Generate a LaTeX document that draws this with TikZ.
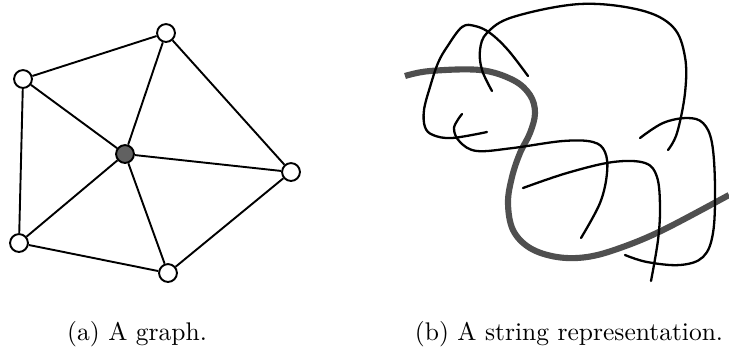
\documentclass[tikz,border=0pt]{standalone}
\usepackage{tikz}

\begin{document}
\begin{tikzpicture}[x=0.392pt, y=-0.392pt,
    vertex/.style={circle, draw, line width=0.75pt, fill=white, minimum size=7pt, inner sep=0pt},
    hub/.style={vertex, fill=black!62},
    edge/.style={line width=0.75pt},
    strand/.style={line width=0.9pt, line cap=round},
    thread/.style={line width=2.4pt, line cap=butt, black!69}]
  \useasboundingbox (0,0) rectangle (729,348);
  \begin{scope}
    \node[vertex] (top) at (166,33) {};
    \node[vertex] (ltop) at (23,79) {};
    \node[hub] (ctr) at (125,154) {};
    \node[vertex] (rgt) at (291,172) {};
    \node[vertex] (lbot) at (19,243) {};
    \node[vertex] (bot) at (168,273) {};
    \draw[edge] (top) -- (ltop);
    \draw[edge] (top) -- (ctr);
    \draw[edge] (top) -- (rgt);
    \draw[edge] (ltop) -- (ctr);
    \draw[edge] (ltop) -- (lbot);
    \draw[edge] (ctr) -- (rgt);
    \draw[edge] (ctr) -- (lbot);
    \draw[edge] (ctr) -- (bot);
    \draw[edge] (lbot) -- (bot);
    \draw[edge] (bot) -- (rgt);
    \node[anchor=base] (capa) at (137,340) {(a) A graph.};
  \end{scope}
  \begin{scope}
    \draw[thread] plot[smooth, tension=0.6] coordinates {(405,76) (430,71) (480,70) (513,80)
      (530,95) (535,113) (530,133) (520,153) (512,177) (508,203) (513,230) (530,248)
      (557,257) (587,257) (620,248) (663,230) (729,195)};
    \draw[strand] plot[smooth, tension=0.6] coordinates {(528,76) (508,50) (490,33) (475,26)
      (462,27) (447,47) (438,63) (430,87) (424,110) (425,127) (433,135) (452,138) (487,132)};
    \draw[strand] plot[smooth, tension=0.6] coordinates {(492,91) (482,70) (480,50) (487,33)
      (513,17) (580,4) (640,10) (673,27) (685,57) (685,93) (677,133) (668,150)};
    \draw[strand] plot[smooth, tension=0.6] coordinates {(462,114) (454,128) (460,142) (477,151)
      (513,148) (563,141) (593,142) (605,152) (607,173) (600,203) (581,238)};
    \draw[strand] plot[smooth, tension=0.6] coordinates {(523,188) (567,173) (613,162) (645,163)
      (657,177) (660,207) (658,240) (651,281)};
    \draw[strand] plot[smooth, tension=0.6] coordinates {(640,138) (663,123) (687,118) (703,123)
      (712,143) (715,187) (713,233) (703,257) (680,265) (647,262) (625,255)};
    \node[anchor=base] (capb) at (569,340) {(b) A string representation.};
  \end{scope}
\end{tikzpicture}
\end{document}
